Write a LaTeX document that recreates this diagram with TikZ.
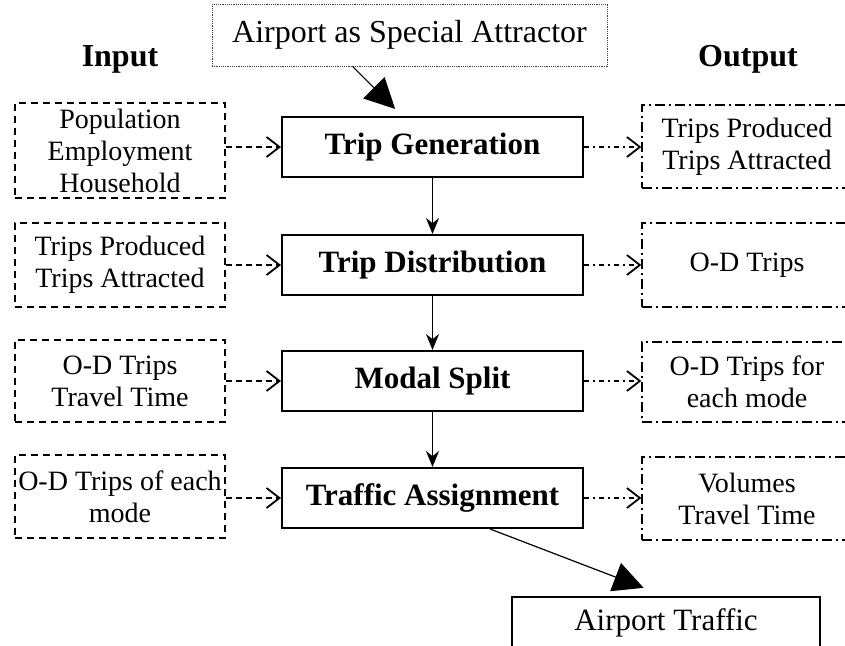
\documentclass[tikz,border=0pt]{standalone}
\usepackage{fontspec}
\setmainfont{Liberation Serif}
\usetikzlibrary{arrows.meta,calc}
\begin{document}
\begin{tikzpicture}[x=1pt,y=-1pt,
  txt/.style={font=\fontsize{28}{32}\selectfont, align=center},
  inbox/.style={txt, draw, line width=1.3pt, dash pattern=on 7pt off 5pt, minimum width=210pt, inner sep=0pt},
  outbox/.style={txt, draw, line width=1.3pt, dash pattern=on 10pt off 4pt on 2pt off 4pt, minimum width=210pt, inner sep=0pt},
  stepbox/.style={draw, line width=2pt, font=\fontsize{31}{36}\selectfont\bfseries, minimum width=301pt, minimum height=60pt, inner sep=0pt},
  headtxt/.style={font=\fontsize{32}{36}\selectfont\bfseries},
  topbox/.style={draw=black!75, line width=0.8pt, dash pattern=on 1.2pt off 1pt, font=\fontsize{32}{36}\selectfont, minimum width=395pt, minimum height=62pt, inner sep=0pt},
  airbox/.style={draw, line width=1.2pt, font=\fontsize{31}{36}\selectfont, minimum width=308pt, minimum height=52pt, inner sep=0pt},
  inarrow/.style={line width=1.3pt, dash pattern=on 6pt off 4pt, -{Straight Barb[length=13pt,width=20pt,line width=1.8pt]}},
  outarrow/.style={line width=1.3pt, dash pattern=on 5pt off 4pt on 2pt off 4pt, -{Straight Barb[length=13pt,width=20pt,line width=1.8pt]}},
  flow/.style={line width=1.5pt, -{Stealth[length=16pt,width=13pt]}},
  bigarrow/.style={line width=1.2pt, -{Triangle[length=30pt,width=30pt]}},
]
\fill[white] (0,0) rectangle (845,645);
\useasboundingbox (0,0) rectangle (845,645);
\clip (0,0) rectangle (845,645);

% headings
\node[headtxt] (inhead) at (120,59) {Input};
\node[headtxt] (outhead) at (748,59) {Output};

% top box
\node[topbox] (attr) at (409.5,35) {Airport as Special Attractor};

% center steps
\node[stepbox] (c1) at (432.5,147) {Trip Generation};
\node[stepbox] (c2) at (432.5,265) {Trip Distribution};
\node[stepbox] (c3) at (432.5,381) {Modal Split};
\node[stepbox] (c4) at (432.5,498) {Traffic Assignment};

% inputs
\node[inbox, minimum height=95pt] (in1) at (120,150.5) {Population\\Employment\\Household};
\node[inbox, minimum height=84pt] (in2) at (120,265) {Trips Produced\\Trips Attracted};
\node[inbox, minimum height=82pt] (in3) at (120,381) {O-D Trips\\Travel Time};
\node[inbox, minimum height=83pt] (in4) at (120,496.5) {O-D Trips of each\\mode};

% outputs
\node[outbox, minimum height=83pt] (r1) at (747,146.5) {Trips Produced\\Trips Attracted};
\node[outbox, minimum height=84pt] (r2) at (747,265) {\raisebox{-12pt}{O-D Trips}};
\node[outbox, minimum height=80pt] (r3) at (747,382) {O-D Trips for\\each mode};
\node[outbox, minimum height=83pt] (r4) at (747,498.5) {Volumes\\Travel Time};

% airport traffic
\node[airbox] (air) at (666,623) {Airport Traffic};

% arrows
\draw[bigarrow, shorten >=10pt] ($(attr.south west)!0.356!(attr.south east)$) -- ($(c1.north west)!0.4!(c1.north east)$);
\draw[bigarrow, shorten >=24pt] ($(c4.south west)!0.69!(c4.south east)$) -- (air.north);

\draw[flow] (c1) -- (c2);
\draw[flow] (c2) -- (c3);
\draw[flow] (c3) -- (c4);

\draw[inarrow] (in1.east |- c1.west) -- (c1.west);
\draw[inarrow] (in2.east |- c2.west) -- (c2.west);
\draw[inarrow] (in3.east |- c3.west) -- (c3.west);
\draw[inarrow] (in4.east |- c4.west) -- (c4.west);

\draw[outarrow] (c1.east) -- (c1.east -| r1.west);
\draw[outarrow] (c2.east) -- (c2.east -| r2.west);
\draw[outarrow] (c3.east) -- (c3.east -| r3.west);
\draw[outarrow] (c4.east) -- (c4.east -| r4.west);
\end{tikzpicture}
\end{document}
